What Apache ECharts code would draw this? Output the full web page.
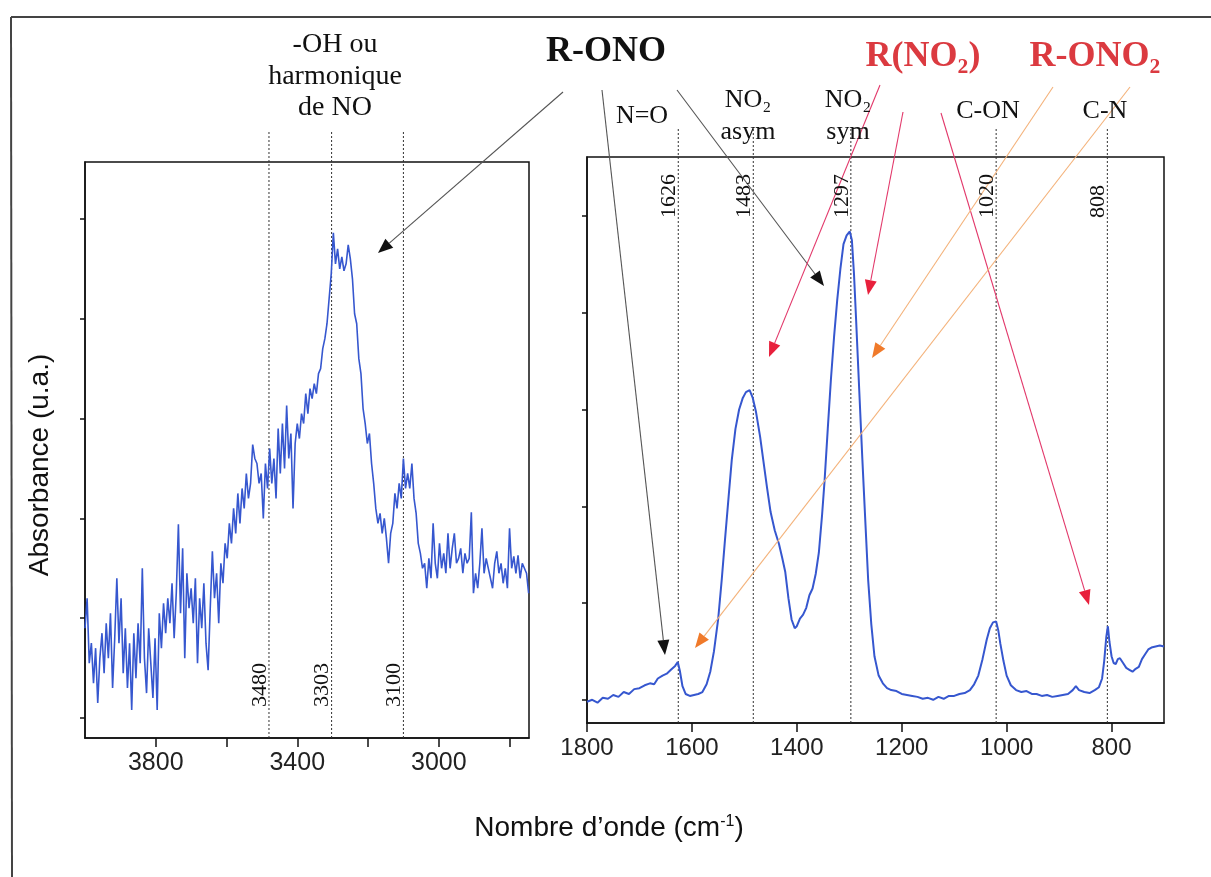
<!DOCTYPE html>
<html><head><meta charset="utf-8">
<script src="https://cdn.jsdelivr.net/npm/echarts@6/dist/echarts.min.js"></script>
<style>html,body{margin:0;padding:0;background:#fff;}#c{width:1211px;height:877px;}</style>
</head><body><div id="c"></div>
<script>
// ---------- DATA ----------
// Left panel: wavenumber (cm-1), absorbance (a.u.)
const leftSpectrum = [
[4000,0.90],[3994,1.20],[3988,0.55],[3982,0.75],[3976,0.35],[3970,0.70],[3964,0.15],[3958,0.60],[3952,0.85],[3946,0.45],
[3940,0.95],[3934,0.60],[3928,1.05],[3922,0.30],[3916,0.80],[3910,1.40],[3904,0.75],[3898,1.20],[3892,0.45],[3886,0.90],
[3880,0.30],[3874,0.75],[3868,0.08],[3862,0.85],[3856,0.40],[3850,0.95],[3844,0.55],[3838,1.50],[3832,0.60],[3826,0.25],
[3820,0.90],[3814,0.55],[3808,0.20],[3802,0.80],[3796,0.08],
[3790,1.05],[3784,0.70],[3778,1.15],[3772,0.85],[3766,1.20],[3760,0.95],[3754,1.35],[3748,0.80],[3742,1.25],[3736,1.94],
[3730,1.05],[3724,1.70],[3718,0.60],[3712,1.45],[3706,1.10],[3700,1.30],
[3694,0.95],[3688,1.40],[3682,0.55],[3676,1.20],[3670,0.90],[3664,1.35],[3658,0.75],[3652,0.48],[3646,1.10],[3640,1.67],
[3634,1.20],[3628,1.45],[3622,0.95],[3616,1.55],[3610,1.35],[3604,1.75],
[3598,1.60],[3592,1.95],[3586,1.75],[3580,2.10],[3574,1.85],[3568,2.25],[3562,1.95],[3556,2.30],[3550,2.10],[3544,2.45],
[3538,2.20],[3532,2.35],[3526,2.74],[3520,2.60],
[3514,2.55],[3508,2.35],[3502,2.45],[3496,2.00],[3490,2.55],[3484,2.30],[3478,2.70],[3472,2.35],[3466,2.60],[3460,2.20],
[3454,2.90],[3448,2.45],[3442,2.95],[3436,2.50],[3430,3.13],[3424,2.60],[3418,2.85],[3412,2.10],[3406,2.75],
[3400,2.95],[3394,2.80],[3388,3.05],[3382,2.95],[3376,3.25],[3370,3.05],[3364,3.30],[3358,3.20],[3352,3.35],[3346,3.25],
[3340,3.45],[3334,3.50],[3328,3.70],
[3322,3.80],[3316,3.95],[3310,4.20],[3304,4.45],[3298,4.86],[3292,4.55],[3286,4.70],[3280,4.50],[3274,4.62],[3268,4.48],
[3262,4.55],[3256,4.74],[3250,4.60],[3244,4.40],[3238,4.05],[3232,3.95],
[3226,3.60],[3220,3.45],[3214,3.10],[3208,2.95],[3202,2.75],[3196,2.85],[3190,2.55],[3184,2.35],[3178,2.10],[3172,1.95],
[3166,2.05],[3160,1.85],[3154,2.00],[3148,1.80],[3142,1.55],[3136,1.85],
[3130,1.95],[3124,2.25],[3118,2.10],[3112,2.35],[3106,2.20],[3100,2.60],[3094,2.30],[3088,2.45],[3082,2.30],[3076,2.55],
[3070,2.20],[3064,2.05],[3058,1.75],[3052,1.65],[3046,1.50],[3040,1.55],
[3034,1.30],[3028,1.60],[3022,1.40],[3016,1.95],[3010,1.55],[3004,1.40],[2998,1.75],[2992,1.50],[2986,1.65],[2980,1.45],
[2974,1.85],[2968,1.50],[2962,1.70],[2956,1.85],[2950,1.55],[2944,1.60],[2938,1.70],[2932,1.45],[2926,1.65],[2920,1.55],
[2914,1.60],[2908,2.06],[2902,1.25],[2896,1.45],[2890,1.30],[2884,1.55],[2878,1.90],[2872,1.45],[2866,1.60],[2860,1.50],
[2854,1.40],[2848,1.30],[2842,1.55],[2836,1.67],[2830,1.45],[2824,1.55],[2818,1.35],[2812,1.50],[2806,1.30],[2800,1.90],
[2794,1.50],[2788,1.62],[2782,1.45],[2776,1.63],[2770,1.40],[2764,1.55],[2758,1.50],[2752,1.45],[2746,1.25]
];
// Right panel
const rightSpectrum = [
[1800,-0.02],[1790,0.00],[1780,-0.03],[1770,0.02],[1760,0.01],[1750,0.05],[1740,0.03],[1730,0.08],[1720,0.06],[1710,0.11],
[1700,0.12],[1690,0.15],[1680,0.17],[1672,0.16],[1665,0.22],[1656,0.25],[1648,0.27],[1640,0.31],[1632,0.35],[1627,0.39],
[1623,0.30],[1618,0.14],[1612,0.06],[1604,0.04],[1596,0.05],[1588,0.06],[1580,0.08],[1572,0.16],[1565,0.29],[1558,0.50],
[1550,0.83],[1543,1.25],[1537,1.65],[1530,2.10],[1524,2.48],[1517,2.80],[1510,3.00],[1503,3.12],[1497,3.18],[1490,3.20],
[1484,3.12],[1478,2.98],[1470,2.72],[1464,2.48],[1457,2.20],[1450,1.94],[1442,1.75],[1434,1.61],[1428,1.47],[1422,1.32],
[1416,1.05],[1410,0.83],[1404,0.74],[1400,0.76],[1394,0.84],[1388,0.88],[1382,0.95],[1376,1.08],[1370,1.15],[1364,1.30],
[1358,1.52],[1352,1.90],[1347,2.27],[1341,2.80],[1335,3.31],[1329,3.75],[1323,4.13],[1317,4.45],[1311,4.71],[1305,4.80],
[1299,4.84],[1295,4.75],[1291,4.40],[1287,3.93],[1281,3.20],[1275,2.48],[1269,1.80],[1264,1.24],[1258,0.78],[1252,0.45],
[1244,0.25],[1236,0.17],[1228,0.12],[1220,0.10],[1210,0.09],[1200,0.06],[1190,0.05],[1180,0.04],[1170,0.03],[1160,0.01],
[1150,0.02],[1140,0.00],[1130,0.03],[1120,0.01],[1110,0.04],[1100,0.04],[1090,0.06],[1080,0.07],[1070,0.10],[1062,0.16],
[1054,0.25],[1046,0.42],[1038,0.62],[1032,0.74],[1026,0.80],[1020,0.81],[1016,0.72],[1012,0.58],[1006,0.40],[1000,0.25],
[992,0.15],[982,0.10],[972,0.08],[962,0.09],[952,0.06],[943,0.06],[933,0.04],[923,0.05],[913,0.03],[903,0.04],
[893,0.05],[883,0.06],[874,0.10],[868,0.14],[862,0.10],[852,0.08],[842,0.07],[832,0.10],[824,0.13],[818,0.22],
[814,0.40],[810,0.65],[807,0.76],[804,0.60],[800,0.45],[796,0.38],[792,0.37],[788,0.42],[784,0.43],[778,0.38],
[772,0.33],[766,0.31],[760,0.29],[754,0.32],[748,0.34],[742,0.42],[736,0.47],[730,0.52],[724,0.54],[716,0.55],
[708,0.56],[700,0.55]
];
const leftMarkers = [3480, 3303, 3100];
const rightMarkers = [1626, 1483, 1297, 1020, 808];
const leftTicks = [2800, 3000, 3200, 3400, 3600, 3800];
const leftTickLabels = [3000, 3400, 3800];
const rightTicks = [800, 1000, 1200, 1400, 1600, 1800];
const yTicks = [0, 1, 2, 3, 4, 5];

// ---------- CHART ----------
const chart = echarts.init(document.getElementById('c'), null, {renderer: 'canvas'});
const blue = '#3657cf';
const serif = '"Liberation Serif", "Times New Roman", serif';
const sans = '"Liberation Sans", Arial, sans-serif';

function xAx(grid, min, max, ticks, labels, fs, show) {
  return {
    type: 'value', gridIndex: grid, min: min, max: max, inverse: true, show: show,
    axisLine: {show: true, onZero: false, lineStyle: {color: '#111', width: 1.5}},
    axisTick: {show: true, customValues: ticks, length: 9, lineStyle: {color: '#111', width: 1.5}},
    axisLabel: {show: true, customValues: labels, fontFamily: sans, fontSize: fs, color: '#222', margin: 13,
      formatter: v => String(v)},
    splitLine: {show: false}
  };
}
function yAx(grid, min, max, show) {
  return {
    type: 'value', gridIndex: grid, min: min, max: max, show: show,
    axisLine: {show: true, onZero: false, lineStyle: {color: '#111', width: 1.5}},
    axisTick: {show: true, customValues: yTicks, length: 5, lineStyle: {color: '#111', width: 1.5}},
    axisLabel: {show: false},
    splitLine: {show: false}
  };
}

const series = [
  {type: 'line', xAxisIndex: 0, yAxisIndex: 0, data: leftSpectrum, showSymbol: false, symbol: 'none',
   lineStyle: {color: blue, width: 1.6}, z: 3},
  {type: 'line', xAxisIndex: 1, yAxisIndex: 1, data: rightSpectrum, showSymbol: false, symbol: 'none',
   lineStyle: {color: blue, width: 2}, z: 3}
];
leftMarkers.forEach(m => series.push({type: 'line', xAxisIndex: 2, yAxisIndex: 2, data: [[m, 0], [m, 1]],
  symbol: 'none', silent: true, lineStyle: {color: '#333', width: 1, type: [2, 2]}, z: 2}));
rightMarkers.forEach(m => series.push({type: 'line', xAxisIndex: 3, yAxisIndex: 3, data: [[m, 0], [m, 1]],
  symbol: 'none', silent: true, lineStyle: {color: '#333', width: 1, type: [2, 2]}, z: 2}));

chart.setOption({
  animation: false,
  backgroundColor: '#fff',
  grid: [
    {left: 85, top: 162, width: 444, height: 576, show: true, borderColor: '#111', borderWidth: 1.5},
    {left: 587, top: 157, width: 577, height: 566, show: true, borderColor: '#111', borderWidth: 1.5},
    {left: 85, top: 132, width: 444, height: 606, show: false},
    {left: 587, top: 128, width: 577, height: 595, show: false}
  ],
  xAxis: [
    xAx(0, 2745, 4000, leftTicks, leftTickLabels, 25, true),
    xAx(1, 700, 1800, rightTicks, rightTicks, 24, true),
    {type: 'value', gridIndex: 2, min: 2745, max: 4000, inverse: true, show: false},
    {type: 'value', gridIndex: 3, min: 700, max: 1800, inverse: true, show: false}
  ],
  yAxis: [
    yAx(0, -0.2, 5.57, true),
    yAx(1, -0.24, 5.61, true),
    {type: 'value', gridIndex: 2, min: 0, max: 1, show: false},
    {type: 'value', gridIndex: 3, min: 0, max: 1, show: false}
  ],
  series: series
});

// ---------- ANNOTATIONS ----------
function txt(text, x, y, font, fill, opts) {
  const o = opts || {};
  return {type: 'text', x: x, y: y, rotation: o.rot || 0, silent: true, z: 10,
    style: {text: text, font: font, fill: fill || '#111',
      align: o.align || 'center', verticalAlign: o.va || 'middle',
      textAlign: o.align || 'center', textVerticalAlign: o.va || 'middle'}};
}
function arrow(x1, y1, x2, y2, lc, hc) {
  const dx = x2 - x1, dy = y2 - y1, L = Math.hypot(dx, dy), ux = dx / L, uy = dy / L;
  const hl = 15, hw = 6;
  const bx = x2 - ux * hl, by = y2 - uy * hl;
  return [
    {type: 'line', silent: true, z: 9, shape: {x1: x1, y1: y1, x2: bx, y2: by}, style: {stroke: lc, lineWidth: 1.1}},
    {type: 'polygon', silent: true, z: 9, shape: {points: [[x2, y2], [bx - uy * hw, by + ux * hw], [bx + uy * hw, by - ux * hw]]},
     style: {fill: hc}}
  ];
}

const g = [];
// outer frame
g.push({type: 'line', silent: true, shape: {x1: 11, y1: 17, x2: 1211, y2: 17}, style: {stroke: '#444', lineWidth: 2}});
g.push({type: 'line', silent: true, shape: {x1: 11, y1: 17, x2: 12, y2: 877}, style: {stroke: '#444', lineWidth: 2}});

const f26 = '26px ' + serif;
g.push(txt('-OH ou', 335, 45, '28px ' + serif));
g.push(txt('harmonique', 335, 77, '28px ' + serif));
g.push(txt('de NO', 335, 108, '28px ' + serif));
g.push(txt('R-ONO', 606, 52, 'bold 36px ' + serif, '#111'));
g.push(txt('N=O', 642, 116, f26));
g.push(txt('NO₂', 748, 100, f26));
g.push(txt('asym', 748, 132, f26));
g.push(txt('NO₂', 848, 100, f26));
g.push(txt('sym', 848, 132, f26));
g.push(txt('C-ON', 988, 111, f26));
g.push(txt('C-N', 1105, 111, f26));
g.push(txt('R(NO₂)', 923, 57, 'bold 36px ' + serif, '#db3a40'));
g.push(txt('R-ONO₂', 1095, 57, 'bold 36px ' + serif, '#db3a40'));

// axis titles
g.push(txt('Absorbance (u.a.)', 40, 465, '28px ' + sans, '#111', {rot: Math.PI / 2}));
g.push({type: 'text', x: 609, y: 828, silent: true, z: 10,
  style: {text: 'Nombre d’onde (cm{s|-1})', align: 'center', verticalAlign: 'middle', textAlign: 'center', textVerticalAlign: 'middle',
    font: '28px ' + sans, fill: '#111',
    rich: {s: {fontSize: 16, fontFamily: sans, verticalAlign: 'top', lineHeight: 16, fill: '#111'}}}});

// marker value labels, positioned from the axes
leftMarkers.forEach(m => {
  const x = chart.convertToPixel({xAxisIndex: 0}, m);
  g.push(txt(String(m), x + 2, 707, '22px ' + serif, '#111', {rot: Math.PI / 2, align: 'left', va: 'bottom'}));
});
rightMarkers.forEach(m => {
  const x = chart.convertToPixel({xAxisIndex: 1}, m);
  g.push(txt(String(m), x + 2, 218, '22px ' + serif, '#111', {rot: Math.PI / 2, align: 'left', va: 'bottom'}));
});

// arrows
const blk = '#555', blkH = '#111', red = '#e2386a', redH = '#e8203c', org = '#f4b27a', orgH = '#f07a2a';
g.push(...arrow(563, 92, 378, 253, blk, blkH));
g.push(...arrow(602, 90, 665, 655, blk, blkH));
g.push(...arrow(677, 90, 824, 286, blk, blkH));
g.push(...arrow(880, 85, 769, 357, red, redH));
g.push(...arrow(903, 112, 868, 295, red, redH));
g.push(...arrow(941, 113, 1089, 605, red, redH));
g.push(...arrow(1053, 87, 872, 358, org, orgH));
g.push(...arrow(1130, 87, 695, 648, org, orgH));

chart.setOption({graphic: g});
</script></body></html>
